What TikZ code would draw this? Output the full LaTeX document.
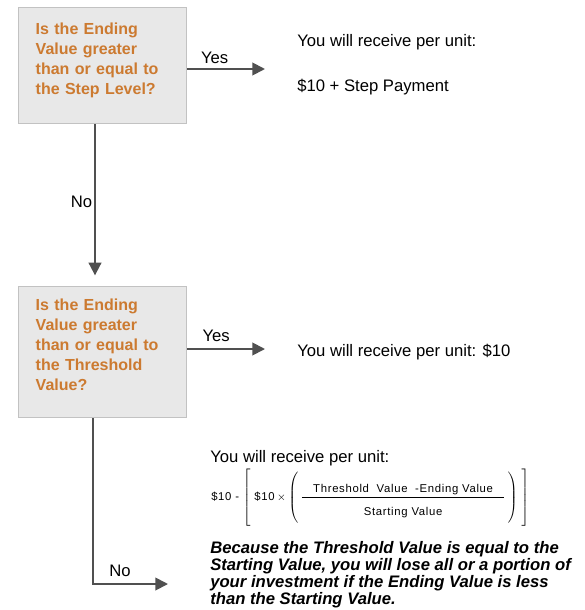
\documentclass[tikz,border=0pt]{standalone}
\usepackage{amsmath}
\usepackage{fontspec}
\setmainfont{Liberation Sans}
\usetikzlibrary{arrows.meta}

\definecolor{askorange}{HTML}{CC7A30}
\definecolor{askfill}{HTML}{E8E8E8}
\definecolor{askline}{HTML}{C2C2C2}
\definecolor{flowgray}{HTML}{505050}

\tikzset{
  askbox/.style={draw=askline, fill=askfill, line width=1.1pt, anchor=north west,
    minimum width=126pt, inner xsep=12.75pt, text width=100.5pt, align=left,
    font=\fontsize{12}{15}\selectfont\bfseries, text=askorange},
  flow/.style={draw=flowgray, line width=1.4pt, -{Triangle[length=9.5pt,width=9.5pt]}},
  lbl/.style={font=\fontsize{12.5}{14}\selectfont, inner sep=0pt},
  paytext/.style={font=\fontsize{12.5}{15}\selectfont, anchor=base west, inner sep=0pt},
}

\begin{document}
\begin{tikzpicture}[x=0.75pt, y=-0.75pt]
    \useasboundingbox (0,0) rectangle (585,610);

    % First question
    \node[askbox, minimum height=87pt] (q1) at (18,7) {Is the Ending\\Value greater\\than or equal to\\the Step Level?\\[-4pt]\mbox{}};
    \node[paytext] (pay1a) at (297,47) {You will receive per unit:};
    \node[paytext] (pay1b) at (297,92) {\$10 + Step Payment};

    % Second question
    \node[askbox, minimum height=98.25pt] (q2) at (18,286) {Is the Ending\\Value greater\\than or equal to\\the Threshold\\Value?\\[-3pt]\mbox{}};
    \node[paytext] (pay2) at (297,356) {You will receive per unit: \$10};

    % Outcome below the threshold
    \node[paytext] (pay3a) at (210,462) {You will receive per unit:};
    \node[anchor=west, inner sep=0pt, font=\fontsize{8.5}{9}\selectfont\addfontfeature{LetterSpace=6}] (pay3f) at (211,498)
      {\$10 - $\left[\rule[-20pt]{0pt}{43pt}\ \text{\$10} \times \left(\rule[-18pt]{0pt}{40pt}\,\dfrac{\text{\quad Threshold\ \ Value\ \ -Ending Value\quad}}{\rule{0pt}{12pt}\text{Starting Value}}\,\right)\ \right]$};
    \node[paytext, align=left, font=\fontsize{12.5}{12.75}\selectfont\bfseries\itshape] (note) at (210,604)
      {Because the Threshold Value is equal to the\\Starting Value, you will lose all or a portion of\\your investment if the Ending Value is less\\than the Starting Value.};

    % Connectors
    \coordinate (yes1) at (265,69);
    \coordinate (yes2) at (265,349);
    \coordinate (down1) at (95,0);
    \coordinate (down2) at (93,0);
    \coordinate (no2) at (168,584);
    \draw[flow] (q1.east |- yes1) -- (yes1) node[lbl, pos=0.35, above=3pt] {Yes};
    \draw[flow] (q2.east |- yes2) -- (yes2) node[lbl, pos=0.37, above=5pt] {Yes};
    \draw[flow, shorten >=8pt] (q1.south -| down1) -- (q2.north -| down1) node[lbl, pos=0.48, left=1.5pt] {No};
    \draw[flow] (q2.south -| down2) |- (no2) node[lbl, pos=0.68, above=5pt] {No};
\end{tikzpicture}
\end{document}
